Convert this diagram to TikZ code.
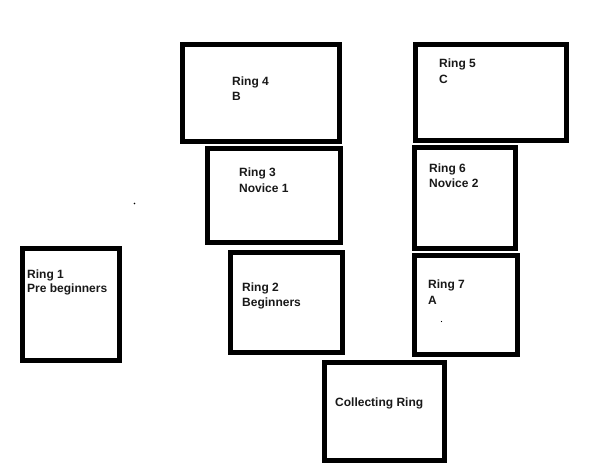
\documentclass[tikz,border=0pt]{standalone}
\usepackage{fontspec}
\setmainfont{Liberation Sans}
\begin{document}
\begin{tikzpicture}[x=1pt,y=-1pt,
  ringbox/.style={draw=black,line width=5.5pt,fill=white},
  lbl/.style={anchor=base west,inner sep=0pt,font=\fontsize{12}{15}\selectfont\bfseries,text=black!90}]
\useasboundingbox[fill=white] (0,0) rectangle (616,468);
% boxes
\draw[ringbox] (182.5,44.5) rectangle (339.5,141.5) coordinate (r4box);
\draw[ringbox] (415.5,44.5) rectangle (566.5,140.5) coordinate (r5box);
\draw[ringbox] (207.5,148.5) rectangle (340.5,242.5) coordinate (r3box);
\draw[ringbox] (414.5,147.5) rectangle (515.5,248.5) coordinate (r6box);
\draw[ringbox] (22.5,248.5) rectangle (119.5,360.5) coordinate (r1box);
\draw[ringbox] (230.5,252.5) rectangle (342.5,352.5) coordinate (r2box);
\draw[ringbox] (414.5,255.5) rectangle (517.5,354.5) coordinate (r7box);
\draw[ringbox] (324.5,362.5) rectangle (444.5,460.5) coordinate (crbox);
% labels
\node[lbl] (r4a) at (232,86) {Ring 4};
\node[lbl] (r4b) at (232,101) {B};
\node[lbl] (r5a) at (439,68) {Ring 5};
\node[lbl] (r5b) at (439,84) {C};
\node[lbl] (r3a) at (239,177) {Ring 3};
\node[lbl] (r3b) at (239,193) {Novice 1};
\node[lbl] (r6a) at (429,172) {Ring 6};
\node[lbl] (r6b) at (429,187) {Novice 2};
\node[lbl] (r1a) at (27,278) {Ring 1};
\node[lbl] (r1b) at (27,292) {Pre beginners};
\node[lbl] (r2a) at (242,291) {Ring 2};
\node[lbl] (r2b) at (242,306) {Beginners};
\node[lbl] (r7a) at (428,288) {Ring 7};
\node[lbl] (r7b) at (428,304) {A};
\node[lbl] (cra) at (335,406) {Collecting Ring};
% stray dots
\fill (134.5,203.5) circle (0.8);
\fill (441.5,321.5) circle (0.6);
\end{tikzpicture}
\end{document}
